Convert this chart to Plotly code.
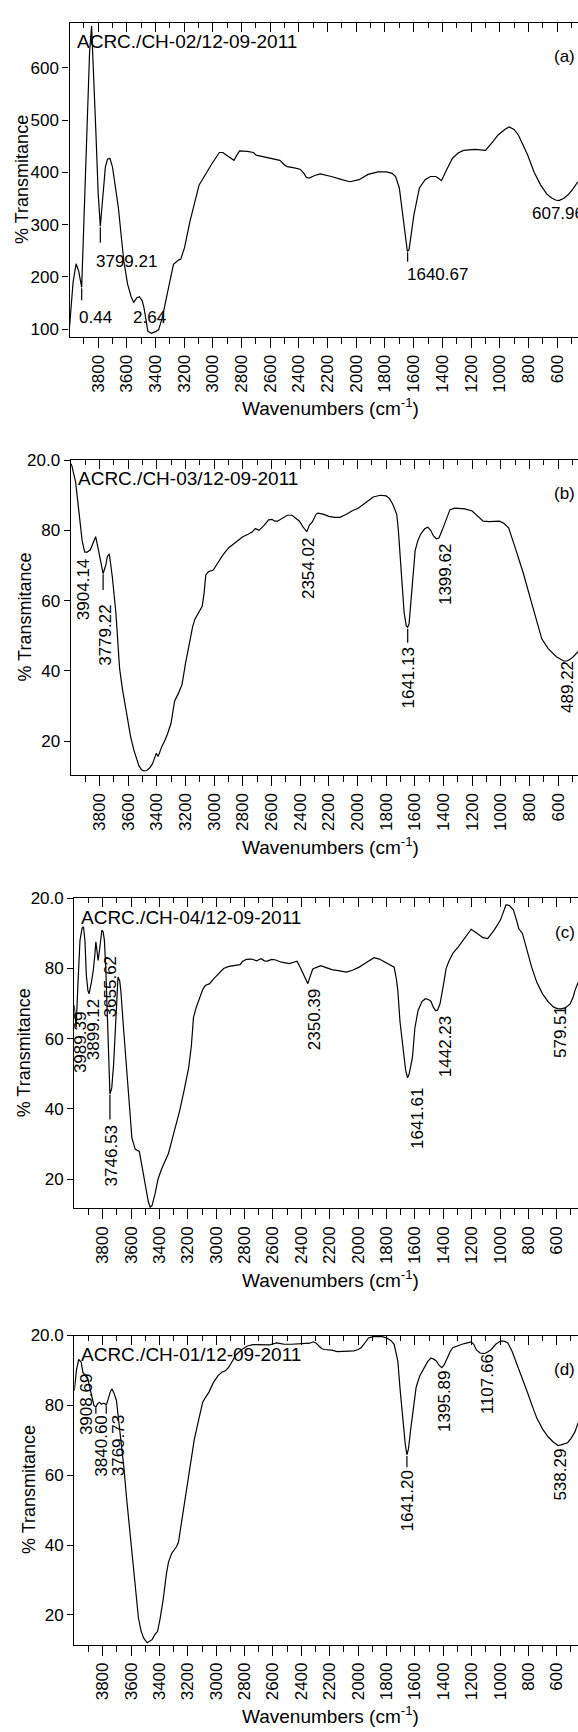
import plotly.graph_objects as go

W, H = 578, 1732
FONT = "Liberation Sans, Arial, sans-serif"

# ---------------- data ----------------
wn_a = [4000, 3975, 3954, 3936, 3915, 3900, 3880, 3860, 3846, 3830, 3815, 3800, 3785, 3770, 3750, 3735, 3718,
        3700, 3680, 3659, 3640, 3621, 3595, 3570, 3552, 3530, 3513, 3493, 3480, 3467, 3454, 3429, 3400, 3378,
        3352, 3314, 3275, 3240, 3224, 3198, 3160, 3096, 3050, 3006, 2955, 2930, 2917, 2880, 2853, 2835, 2814,
        2760, 2717, 2699, 2600, 2533, 2500, 2482, 2440, 2392, 2365, 2348, 2328, 2290, 2251, 2200, 2174, 2100,
        2046, 1980, 1918, 1850, 1790, 1750, 1726, 1700, 1683, 1660, 1644, 1632, 1615, 1598, 1560, 1520, 1483,
        1445, 1425, 1406, 1370, 1329, 1290, 1252, 1175, 1130, 1099, 1050, 1010, 960, 933, 900, 869, 805, 760,
        715, 670, 638, 610, 587, 555, 523, 490, 455]
tr_a = [103, 190, 225, 211, 180, 300, 480, 630, 680, 580, 470, 360, 297, 345, 410, 425, 427,
        410, 375, 332, 280, 230, 186, 162, 151, 160, 162, 154, 140, 120, 96, 92, 95, 99,
        123, 173, 224, 232, 234, 256, 306, 376, 398, 417, 438, 438, 435, 428, 423, 432, 441,
        440, 438, 433, 427, 423, 414, 411, 409, 406, 398, 390, 389, 394, 397, 394, 392, 386,
        382, 386, 396, 401, 401, 398, 392, 370, 332, 285, 249, 252, 290, 319, 370, 386, 392,
        392, 388, 384, 405, 427, 437, 442, 444, 443, 442, 458, 472, 483, 487, 482, 471, 433, 400,
        376, 358, 351, 347, 346, 350, 357, 368, 382]

wn_b = [4000, 3992, 3966, 3941, 3920, 3902, 3885, 3864, 3845, 3826, 3812, 3800, 3785, 3774, 3764, 3754, 3745,
        3731, 3720, 3710, 3685, 3670, 3659, 3640, 3621, 3600, 3582, 3560, 3544, 3525, 3506, 3490, 3470, 3450,
        3430, 3415, 3403, 3390, 3375, 3365, 3345, 3325, 3301, 3290, 3275, 3250, 3224, 3200, 3173, 3150, 3134,
        3100, 3083, 3070, 3058, 3040, 3006, 2970, 2942, 2900, 2840, 2800, 2763, 2735, 2712, 2686, 2650, 2620,
        2597, 2575, 2558, 2520, 2490, 2456, 2430, 2405, 2380, 2354, 2335, 2315, 2290, 2277, 2240, 2200, 2160,
        2123, 2080, 2040, 1995, 1940, 1890, 1842, 1800, 1778, 1755, 1740, 1726, 1715, 1701, 1688, 1675, 1660,
        1650, 1640, 1624, 1610, 1598, 1580, 1560, 1530, 1509, 1490, 1470, 1450, 1432, 1410, 1393, 1375, 1355,
        1320, 1290, 1252, 1200, 1162, 1140, 1124, 1080, 1040, 1010, 980, 946, 900, 843, 780, 715, 670, 640,
        613, 580, 560, 536, 500, 464, 440]
tr_b = [99, 98.4, 93.8, 85.4, 77, 73.8, 73.8, 74.4, 76.5, 78.2, 75.5, 73.3, 70, 67.7, 69, 70.3, 72.5,
        73.3, 70, 66.8, 56.6, 47, 40.7, 35, 30.5, 26, 21.2, 17.5, 15.5, 13, 11.8, 11.5, 11.6, 12.3,
        13.5, 15.5, 16.5, 15.6, 17.5, 18.4, 20, 22, 25, 28, 31.4, 33.5, 36, 42, 48.2, 52.5, 54.7,
        57, 58.4, 62, 67.3, 68.2, 68.7, 71, 72.8, 75, 77, 78.2, 78.9, 79.5, 80.5, 80, 81.5, 83,
        83.1, 82.6, 82.6, 83.5, 84.3, 84.3, 83.5, 82.6, 81, 79.6, 81.5, 82.4, 84.5, 84.9, 84.6, 84, 83.7,
        83.7, 84.5, 85.5, 86.3, 88, 89.5, 90, 89.8, 89.1, 87.5, 86, 84.5, 80, 72.4, 64, 56.6, 52.8,
        52.4, 53.5, 61.2, 69, 74.2, 77, 78.9, 80.5, 80.9, 80, 78.4, 77.6, 77.8, 80, 81.7, 84, 85.9,
        86.3, 86.2, 86.1, 85.5, 84, 83, 82.6, 82.5, 82.6, 82.6, 82, 80.7, 75, 67.7, 58.5, 49.1, 46.3, 45,
        44, 43.2, 42.8, 42.8, 43.8, 45.4, 47]

wn_c = [4000, 3987, 3975, 3960, 3945, 3935, 3925, 3915, 3904, 3896, 3880, 3866, 3855, 3848, 3840, 3832, 3820,
        3806, 3797, 3788, 3778, 3770, 3760, 3749, 3736, 3723, 3710, 3700, 3692, 3680, 3672, 3655, 3633, 3615,
        3594, 3570, 3542, 3520, 3504, 3490, 3478, 3465, 3452, 3430, 3410, 3387, 3360, 3336, 3300, 3258, 3225,
        3194, 3175, 3160, 3140, 3116, 3095, 3077, 3046, 3020, 3000, 2975, 2948, 2910, 2870, 2832, 2815, 2788,
        2750, 2715, 2700, 2684, 2660, 2638, 2610, 2586, 2540, 2483, 2455, 2431, 2410, 2392, 2370, 2354, 2340,
        2320, 2302, 2263, 2220, 2185, 2140, 2082, 2040, 1992, 1950, 1888, 1850, 1811, 1780, 1746, 1730, 1720,
        1705, 1682, 1665, 1651, 1640, 1630, 1617, 1600, 1578, 1550, 1526, 1505, 1487, 1470, 1454, 1440, 1423,
        1400, 1380, 1358, 1330, 1294, 1250, 1203, 1160, 1120, 1087, 1040, 997, 975, 958, 935, 906, 885, 868,
        842, 810, 777, 740, 700, 660, 622, 595, 570, 540, 506, 485, 472, 450]
tr_c = [69.5, 63.2, 75, 88, 91.5, 91.9, 88, 78, 73.7, 72.8, 76, 79.5, 84, 87.6, 85, 82.3, 86,
        90.9, 90.5, 88.1, 80, 71.8, 58, 44.2, 46, 52.7, 65, 74, 77.6, 76.5, 73.7, 64, 52.7, 42,
        31.7, 28.5, 27.9, 23, 19.3, 16, 13.5, 12, 12.5, 16, 20, 22.7, 25, 27.4, 33, 39.4, 45.5,
        51.8, 58, 66.1, 69, 71.8, 74, 75.2, 75.7, 77, 77.8, 79, 80, 80.6, 80.9, 81.1, 82, 82.6,
        82.7, 82.2, 82.5, 82.8, 82.2, 82.1, 82.6, 82.5, 81.8, 81.4, 81.8, 82.1, 80.5, 79, 77, 75.7, 77.5,
        79.8, 80.2, 80.8, 80.2, 79.7, 79.4, 79, 79.5, 80.4, 81.5, 83.1, 82.7, 81.9, 81.2, 80.4, 77, 73.7,
        65, 56.6, 51, 48.9, 50, 52, 54.7, 63, 68, 70.6, 71.4, 71.2, 70.7, 69, 68, 68.2, 69.9,
        75, 80, 82.3, 84.5, 86.2, 88.5, 91.2, 90, 88.8, 88.5, 91, 93.8, 96.5, 98.1, 98, 96.7, 94, 91.4,
        90, 85.5, 80.4, 76, 72.8, 70.5, 69, 68.6, 68.5, 68.8, 69.9, 71.8, 73.7, 76]

wn_d = [4000, 3985, 3969, 3960, 3951, 3940, 3925, 3904, 3890, 3879, 3862, 3848, 3835, 3822, 3810, 3796, 3785,
        3775, 3760, 3745, 3734, 3720, 3703, 3690, 3672, 3650, 3633, 3612, 3594, 3570, 3548, 3530, 3512, 3486,
        3468, 3452, 3430, 3413, 3395, 3374, 3350, 3336, 3315, 3297, 3280, 3266, 3240, 3207, 3180, 3155, 3120,
        3095, 3075, 3051, 3020, 2987, 2960, 2935, 2910, 2896, 2860, 2819, 2780, 2741, 2700, 2660, 2625, 2600,
        2573, 2545, 2521, 2470, 2420, 2367, 2340, 2315, 2295, 2276, 2255, 2237, 2210, 2186, 2147, 2100, 2060,
        2030, 2000, 1979, 1950, 1927, 1890, 1862, 1830, 1798, 1770, 1746, 1735, 1720, 1705, 1682, 1668, 1656,
        1645, 1630, 1610, 1591, 1565, 1539, 1510, 1488, 1470, 1449, 1430, 1410, 1395, 1380, 1371, 1350, 1333,
        1300, 1268, 1230, 1203, 1185, 1165, 1140, 1113, 1090, 1061, 1030, 997, 970, 945, 915, 880, 840, 803,
        770, 739, 700, 661, 625, 591, 570, 545, 524, 500, 472, 450]
tr_d = [84.2, 90, 93.2, 92.8, 92.3, 89.5, 88.5, 87.5, 85, 83.3, 80, 79.5, 80.5, 80.9, 80.3, 80.6, 80.5,
        80, 82, 84, 84.7, 83.5, 81.4, 77, 70.1, 62, 54, 45.5, 38, 27, 19.1, 15.5, 13.4, 12,
        12.4, 12.9, 14.5, 15.3, 19, 24.3, 32, 35.1, 37.5, 38.4, 39.5, 40.8, 48, 56.8, 64, 70.1, 76.5,
        80.9, 82.3, 83.8, 86.5, 88.5, 89.5, 89.9, 91, 92, 94.5, 96, 97, 97.4, 97.4, 97.3, 97.3, 97.6,
        97.9, 97.7, 97.5, 97.5, 97.6, 97.6, 97.8, 98.2, 97.8, 97, 96.2, 96, 95.9, 95.8, 95.4, 95.4, 95.5,
        95.6, 96, 96.5, 98, 99.3, 99.7, 99.8, 99.7, 99.3, 98.6, 97.5, 95.5, 92.7, 85, 73.8, 69, 65.8,
        67.5, 72.9, 80, 85.2, 88.5, 90.4, 92.5, 93.5, 93.3, 92.7, 91.5, 90.8, 91.5, 92.8, 93.7, 95.5, 96.5,
        97.1, 97.5, 97.9, 98.2, 97.5, 95.8, 95, 94.8, 95.2, 96, 97.5, 98.4, 98.4, 97.9, 95.5, 91.8, 87.5, 83.3,
        79.5, 76.2, 73.2, 71, 69.5, 68.5, 68.7, 69, 69.3, 70.5, 72.4, 75]

# tick labels
x_major = list(range(3800, 599, -200))
x_minor = list(range(3900, 499, -200))
y_vals_a = [100, 200, 300, 400, 500, 600]
y_text_a = ["100", "200", "300", "400", "500", "600"]
y_vals_p = [20, 40, 60, 80, 100]
y_text_p = ["20", "40", "60", "80", "20.0"]

# sample names and panel letters
names = ["ACRC./CH-02/12-09-2011", "ACRC./CH-03/12-09-2011", "ACRC./CH-04/12-09-2011", "ACRC./CH-01/12-09-2011"]
letters = ["(a)", "(b)", "(c)", "(d)"]

# peak labels (text, x, y)
lab_a_text = ["0.44", "3799.21", "2.64", "1640.67", "607.96"]
lab_a_x = [3948, 3831, 3570, 1662, 788]
lab_a_y = [123, 229, 123, 205, 322]

lab_b_text = ["3904.14", "3779.22", "2354.02", "1641.13", "1399.62", "489.22"]
lab_b_x = [3910, 3754, 2341, 1642, 1381, 536]
lab_b_y = [72.4, 59.5, 78.4, 47.3, 76.6, 43.5]

lab_c_text = ["3989.39", "3899.12", "3655.62", "3746.53", "2350.39", "1641.61", "1442.23", "579.51"]
lab_c_x = [3960, 3868, 3748, 3735, 2307, 1583, 1384, 570]
lab_c_y = [68.3, 71.7, 83.9, 36.0, 74.7, 46.5, 67.0, 69.9]

lab_d_text = ["3908.69", "3840.60", "3769.73", "1641.20", "1395.89", "1107.66", "538.29"]
lab_d_x = [3917, 3809, 3692, 1650, 1392, 1087, 570]
lab_d_y = [89.4, 77.6, 77.6, 62.0, 90.4, 95.1, 68.2]

# leader lines (x, from y, to y)
lead_a = ([3915, 3785, 1642], [178, 295, 247], [155, 265, 229])
lead_b = ([3774, 1650], [67.5, 52.0], [63.0, 48.0])
lead_c = ([3749], [44.0], [37.0])
lead_d = ([3848, 3775, 1656], [79.3, 79.8, 65.5], [77.6, 77.6, 62.3])

# ---------------- layout geometry (pixels) ----------------
tops = [14, 454, 895, 1335]
bottoms = [330, 771, 1207, 1646]
lefts = [69.5, 70.7, 74.3, 74.3]
px_per_unit = [0.1434, 0.1434, 0.1419, 0.1419]
y_ranges = [[85, 686], [10.3, 100], [11.7, 100], [11.5, 100]]
ytitle_x = [22, 25, 24, 29]

series = [(wn_a, tr_a), (wn_b, tr_b), (wn_c, tr_c), (wn_d, tr_d)]
labels = [(lab_a_text, lab_a_x, lab_a_y), (lab_b_text, lab_b_x, lab_b_y),
          (lab_c_text, lab_c_x, lab_c_y), (lab_d_text, lab_d_x, lab_d_y)]
leads = [lead_a, lead_b, lead_c, lead_d]

fig = go.Figure()
annotations = []
shapes = []
layout = {}

for i in range(4):
    n = i + 1
    xs = "" if n == 1 else str(n)
    xt = str(n + 4)
    ys = "" if n == 1 else str(n)
    L = lefts[i]
    xr = 4000 - (W - L) / px_per_unit[i]
    dom_x = [L / W, 1.0]
    dom_y = [1 - bottoms[i] / H, 1 - tops[i] / H]

    wn, tr = series[i]
    fig.add_trace(go.Scatter(x=wn, y=tr, mode="lines", line=dict(color="black", width=1.2),
                             xaxis="x" + xs, yaxis="y" + ys, showlegend=False, hoverinfo="skip"))
    fig.add_trace(go.Scatter(x=[wn[0]], y=[tr[0]], mode="markers", marker=dict(opacity=0),
                             xaxis="x" + xt, yaxis="y" + ys, showlegend=False, hoverinfo="skip"))

    layout["xaxis" + xs] = dict(
        domain=dom_x, range=[4000, xr], anchor="y" + ys, showgrid=False, zeroline=False,
        showline=True, linecolor="black", linewidth=1.3,
        tickmode="array", tickvals=x_major, ticktext=[str(v) for v in x_major],
        tickangle=-90, ticks="outside", ticklen=10, tickwidth=1.2, tickcolor="black",
        tickfont=dict(family=FONT, size=17, color="black"),
        minor=dict(tickmode="array", tickvals=x_minor, ticks="outside", ticklen=6, tickwidth=1.2,
                   tickcolor="black", showgrid=False),
    )
    layout["xaxis" + xt] = dict(
        overlaying="x" + xs, side="top", anchor="y" + ys, range=[4000, xr], showgrid=False,
        zeroline=False, showline=True, linecolor="black", linewidth=1.3,
        tickmode="array", tickvals=x_major, showticklabels=False, ticks="inside", ticklen=9,
        tickwidth=1.2, tickcolor="black",
        minor=dict(tickmode="array", tickvals=x_minor, ticks="inside", ticklen=5, tickwidth=1.2,
                   tickcolor="black", showgrid=False),
    )
    yv, ytx = (y_vals_a, y_text_a) if i == 0 else (y_vals_p, y_text_p)
    layout["yaxis" + ys] = dict(
        domain=dom_y, range=y_ranges[i], anchor="x" + xs, showgrid=False, zeroline=False,
        showline=True, linecolor="black", linewidth=1.3,
        tickmode="array", tickvals=yv, ticktext=ytx, ticks="outside", ticklen=6, tickwidth=1.2,
        tickcolor="black", tickfont=dict(family=FONT, size=17, color="black"),
    )

    # peak labels
    txt, lx, ly = labels[i]
    for t, xv, yv_ in zip(txt, lx, ly):
        if i == 0:
            annotations.append(dict(text=t, x=xv, y=yv_, xref="x" + xs, yref="y" + ys, showarrow=False,
                                    xanchor="left", yanchor="middle",
                                    font=dict(family=FONT, size=17, color="black")))
        else:
            annotations.append(dict(text=t, x=xv, y=yv_, xref="x" + xs, yref="y" + ys, showarrow=False,
                                    textangle=-90, xanchor="center", yanchor="top",
                                    font=dict(family=FONT, size=17, color="black")))
    for xv, y0, y1 in zip(*leads[i]):
        shapes.append(dict(type="line", xref="x" + xs, yref="y" + ys, x0=xv, x1=xv, y0=y0, y1=y1,
                           line=dict(color="black", width=1.2)))

    # sample name, panel letter, axis titles
    annotations.append(dict(text=names[i], x=(L + 5) / W, y=1 - (tops[i] + 19) / H, xref="paper",
                            yref="paper", showarrow=False, xanchor="left", yanchor="middle",
                            font=dict(family=FONT, size=19, color="black")))
    annotations.append(dict(text=letters[i], x=577 / W, y=1 - (tops[i] + 34) / H, xref="paper",
                            yref="paper", showarrow=False, xanchor="right", yanchor="middle",
                            font=dict(family=FONT, size=17, color="black")))
    annotations.append(dict(text="Wavenumbers (cm<sup>-1</sup>)", x=330 / W, y=1 - (bottoms[i] + 71) / H,
                            xref="paper", yref="paper", showarrow=False, xanchor="center",
                            yanchor="middle", font=dict(family=FONT, size=19, color="black")))
    annotations.append(dict(text="% Transmitance", x=ytitle_x[i] / W, y=1 - (tops[i] + bottoms[i]) / 2 / H,
                            xref="paper", yref="paper", showarrow=False, textangle=-90,
                            xanchor="center", yanchor="middle",
                            font=dict(family=FONT, size=18, color="black")))

fig.update_layout(
    width=W, height=H, margin=dict(l=0, r=0, t=0, b=0),
    paper_bgcolor="white", plot_bgcolor="white", showlegend=False,
    annotations=annotations, shapes=shapes, **layout,
)

fig.write_html("out.html", config={"displayModeBar": False},
               post_script="document.body.style.margin='0';document.body.style.overflow='hidden';")
